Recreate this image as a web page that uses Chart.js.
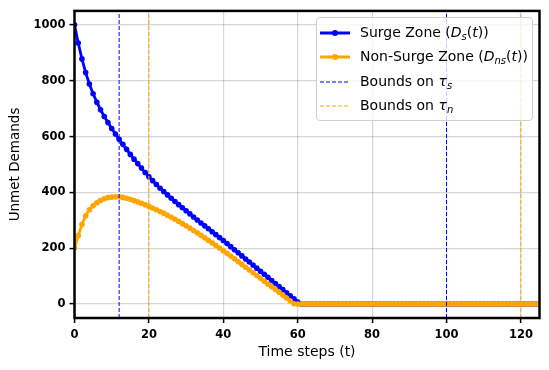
<!DOCTYPE html>
<html>
<head>
<meta charset="utf-8">
<script src="https://cdn.jsdelivr.net/npm/chart.js@4"></script>
<style>
  body { margin: 0; background: #fff; }
  #wrap { position: relative; width: 549px; height: 370px; }
  #legend {
    position: absolute; left: 316px; top: 17px; width: 215px; height: 100px;
    border: 1px solid #d0d0d0; border-radius: 4px; background: rgba(255,255,255,0.8);
    font-family: "DejaVu Sans", sans-serif; font-size: 14px; color: #000;
    padding-top: 2px; box-sizing: content-box;
  }
  .row { position: relative; padding-left: 43px; white-space: nowrap; }
  .r24 { height: 24px; line-height: 24px; }
  .r25 { height: 25px; line-height: 25px; }
  .sw { position: absolute; left: 3px; top: 10px; width: 30px; height: 6px; display: block; }
  sub { font-size: 10px; vertical-align: -3px; line-height: 0; font-style: italic; }
</style>
</head>
<body>
<div id="wrap">
  <canvas id="chart" width="549" height="370"></canvas>
  <div id="legend">
    <div class="row r24"><svg class="sw"><line x1="0" y1="3" x2="30" y2="3" stroke="#0000ff" stroke-width="3"/><circle cx="15" cy="3" r="3" fill="#0000ff"/></svg>Surge Zone (<i>D</i><sub>s</sub>(<i>t</i>))</div>
    <div class="row r25"><svg class="sw"><line x1="0" y1="3" x2="30" y2="3" stroke="#ffa500" stroke-width="3"/><circle cx="15" cy="3" r="3" fill="#ffa500"/></svg>Non-Surge Zone (<i>D</i><sub>ns</sub>(<i>t</i>))</div>
    <div class="row r24"><svg class="sw"><line x1="0" y1="3" x2="30" y2="3" stroke="#0000ff" stroke-width="1.2" stroke-dasharray="4 2"/></svg>Bounds on <i>τ</i><sub>s</sub></div>
    <div class="row r25"><svg class="sw"><line x1="0" y1="3" x2="30" y2="3" stroke="#ffa500" stroke-width="1.2" stroke-dasharray="4 2"/></svg>Bounds on <i>τ</i><sub>n</sub></div>
  </div>
</div>
<script>
// unmet demand per time step (t = 0, 1, 2, ...)
const surge = [
  1000, 935, 878, 829, 788, 753, 723, 696, 672, 650, 629, 609, 590, 572, 554, 536, 519, 503, 487, 471,
  456, 442, 428, 415, 403, 391, 379, 367.5, 356, 345, 334, 323, 312, 301, 290.5, 280, 269.5, 259, 248.5, 238,
  227.5, 216.5, 205.5, 194.5, 183.5, 172.5, 161.5, 150.5, 139.5, 128.5, 117.5, 106.5, 95.5, 84.5, 73.5, 62.5, 51.5, 40.5, 29.5, 18.5,
  7.5, 0, 0, 0, 0, 0, 0, 0, 0, 0, 0, 0, 0, 0, 0, 0, 0, 0, 0, 0,
  0, 0, 0, 0, 0, 0, 0, 0, 0, 0, 0, 0, 0, 0, 0, 0, 0, 0, 0, 0,
  0, 0, 0, 0, 0, 0, 0, 0, 0, 0, 0, 0, 0, 0, 0, 0, 0, 0, 0, 0,
  0, 0, 0, 0, 0, 0
];
const nonSurge = [
  200, 245, 285, 316, 338, 352, 363, 371, 377, 381, 383, 384, 384, 382, 379, 375, 370.5, 366, 361, 355.5,
  350, 344, 338, 331.5, 325, 318, 311, 303.5, 296, 288, 280, 272, 263.5, 255, 246, 237, 228, 219, 210, 200.5,
  191, 181.5, 172, 162, 152, 142, 132, 122, 112, 102, 92, 82, 72, 62, 52, 42, 32, 21.5, 11, 1,
  0, 0, 0, 0, 0, 0, 0, 0, 0, 0, 0, 0, 0, 0, 0, 0, 0, 0, 0, 0,
  0, 0, 0, 0, 0, 0, 0, 0, 0, 0, 0, 0, 0, 0, 0, 0, 0, 0, 0, 0,
  0, 0, 0, 0, 0, 0, 0, 0, 0, 0, 0, 0, 0, 0, 0, 0, 0, 0, 0, 0,
  0, 0, 0, 0, 0, 0
];
const boundsS = [12, 100];
const boundsN = [20, 120];
const xTicks = [0, 20, 40, 60, 80, 100, 120];
const yTicks = [0, 200, 400, 600, 800, 1000];

const X_MIN = 0, X_MAX = 125, Y_MIN = -50, Y_MAX = 1050;

function toPoints(arr) {
  return arr.map((v, i) => ({ x: i, y: v }));
}

// each bound becomes a vertical segment, separated by a gap
function vLines(xs) {
  const pts = [];
  xs.forEach((x, i) => {
    if (i > 0) pts.push({ x: x, y: null });
    pts.push({ x: x, y: Y_MIN }, { x: x, y: Y_MAX });
  });
  return pts;
}

const frame = {
  id: 'frame',
  afterDraw(chart) {
    const { ctx, chartArea: a } = chart;
    ctx.save();
    ctx.strokeStyle = '#000';
    ctx.lineWidth = 2.5;
    ctx.strokeRect(a.left, a.top, a.right - a.left, a.bottom - a.top);
    ctx.restore();
  }
};

const tickFont = { family: "'DejaVu Sans', sans-serif", size: 11.5, weight: 700 };

new Chart(document.getElementById('chart'), {
  type: 'line',
  data: {
    datasets: [
      {
        label: 'Surge Zone', data: toPoints(surge), order: 2,
        borderColor: '#0000ff', backgroundColor: '#0000ff', borderWidth: 2.8,
        pointRadius: 2.8, pointBorderWidth: 0, pointHoverRadius: 2.8
      },
      {
        label: 'Non-Surge Zone', data: toPoints(nonSurge), order: 1,
        borderColor: '#ffa500', backgroundColor: '#ffa500', borderWidth: 2.8,
        pointRadius: 2.8, pointBorderWidth: 0, pointHoverRadius: 2.8
      },
      {
        label: 'Bounds on τs', data: vLines(boundsS), order: 0, spanGaps: false,
        borderColor: '#0000ff', borderWidth: 1, borderDash: [4, 2], pointRadius: 0
      },
      {
        label: 'Bounds on τn', data: vLines(boundsN), order: 0, spanGaps: false,
        borderColor: '#ffa500', borderWidth: 1, borderDash: [4, 2], pointRadius: 0
      }
    ]
  },
  options: {
    responsive: false,
    animation: false,
    devicePixelRatio: 1,
    layout: { padding: { top: 10, right: 9.5, left: 0, bottom: 0 } },
    plugins: { legend: { display: false }, tooltip: { enabled: false } },
    scales: {
      x: {
        type: 'linear', min: X_MIN, max: X_MAX,
        afterFit(s) { s.height = 52; },
        afterBuildTicks(s) { s.ticks = xTicks.map(v => ({ value: v })); },
        ticks: { font: tickFont, color: '#000', padding: 5, includeBounds: false, callback: v => String(v) },
        grid: { color: 'rgba(0,0,0,0.16)', lineWidth: 1.2, tickColor: '#000', tickLength: 5, tickWidth: 1.5 },
        border: { display: false },
        title: { display: true, text: 'Time steps (t)', font: { family: "'DejaVu Sans', sans-serif", size: 14 }, color: '#000', padding: { top: 0, bottom: 9.5 } }
      },
      y: {
        type: 'linear', min: Y_MIN, max: Y_MAX,
        afterFit(s) { s.width = 74.5; },
        afterBuildTicks(s) { s.ticks = yTicks.map(v => ({ value: v })); },
        ticks: { font: tickFont, color: '#000', padding: 4, includeBounds: false, callback: v => String(v) },
        grid: { color: 'rgba(0,0,0,0.16)', lineWidth: 1.2, tickColor: '#000', tickLength: 5, tickWidth: 1.5 },
        border: { display: false },
        title: { display: true, text: 'Unmet Demands', font: { family: "'DejaVu Sans', sans-serif", size: 13.5 }, color: '#000', padding: { top: 7, bottom: 0 } }
      }
    }
  },
  plugins: [frame]
});
</script>
</body>
</html>
